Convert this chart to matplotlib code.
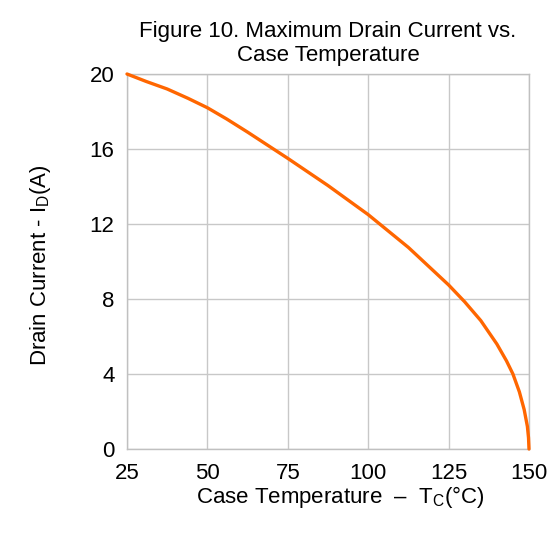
import matplotlib
matplotlib.use("Agg")
import matplotlib.pyplot as plt

plt.rcParams['font.family'] = ['Liberation Sans', 'DejaVu Sans']
plt.rcParams['mathtext.fontset'] = 'custom'
plt.rcParams['mathtext.rm'] = 'Liberation Sans'
plt.rcParams['mathtext.it'] = 'Liberation Sans'

# Data
temp_c = [25, 31, 37.5, 44, 50, 56, 62.5, 75, 87.5, 100, 112.5, 125, 130, 135, 140,
          143, 145, 147, 148.5, 149.5, 149.85, 150]
drain_a = [20, 19.6, 19.2, 18.7, 18.2, 17.6, 16.9, 15.5, 14.05, 12.5, 10.75, 8.75, 7.85, 6.85, 5.6,
           4.7, 4.0, 3.05, 2.1, 1.2, 0.6, 0]
x_ticks = [25, 50, 75, 100, 125, 150]
y_ticks = [0, 4, 8, 12, 16, 20]

fig = plt.figure(figsize=(5.5, 5.41), dpi=100)
ax = fig.add_axes([127/550, 1-449/541, (529-127)/550, (449-74)/541])

ax.plot(temp_c, drain_a, color='#FF6600', lw=2.4, solid_capstyle='round',
        solid_joinstyle='round', zorder=3, clip_on=False)

ax.set_xlim(25, 150)
ax.set_ylim(0, 20)
ax.set_xticks(x_ticks)
ax.set_yticks(y_ticks)
ax.tick_params(length=0, labelsize=16, colors='black')
ax.tick_params(axis='x', pad=10)
ax.tick_params(axis='y', pad=9)
ax.grid(True, color='#c8c8c8', lw=1)
for s in ax.spines.values():
    s.set_color('#c0c0c0')
    s.set_linewidth(1)

ax.set_title('Figure 10. Maximum Drain Current vs.\nCase Temperature', fontsize=16,
             linespacing=1.25, pad=9)
ax.set_xlabel(r'Case Temperature  –  T$_{\mathrm{C}}$(°C)', fontsize=16)
ax.set_ylabel(r'Drain Current - I$_{\mathrm{D}}$(A)', fontsize=16)
ax.xaxis.set_label_coords(0.53, -0.092)
ax.yaxis.set_label_coords(-0.185, 0.49)

fig.savefig('out.png', dpi=100)
